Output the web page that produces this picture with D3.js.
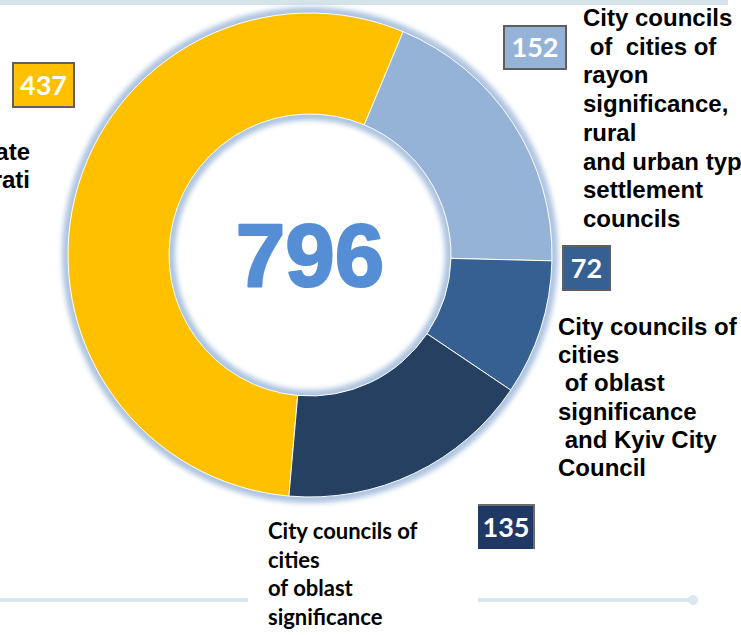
<!DOCTYPE html>
<html>
<head>
<meta charset="utf-8">
<script src="https://cdn.jsdelivr.net/npm/d3@7"></script>
<style>
  html, body { margin: 0; padding: 0; background: #fff; }
  svg { display: block; }
  text { white-space: pre; }
</style>
</head>
<body>
<script>
// Councils by type: counts per category and total
const categories = ["State administrations", "Rayon-level councils", "Oblast city councils and Kyiv", "Oblast city councils"];
const values = [437, 152, 72, 135];
const total = 796;
const sliceColors = ["#ffc000", "#95b3d7", "#366092", "#254061"];
const boxColors = ["#ffc000", "#95b3d7", "#366092", "#1f3864"];

// Label text lines, as laid out beside each slice
const labelLines = [
  ["ate", "rati"],
  ["City councils", " of  cities of", "rayon", "significance,", "rural", "and urban typ", "settlement", "councils"],
  ["City councils of", "cities", " of oblast", "significance", " and Kyiv City", "Council"],
  ["City councils of", "cities", "of oblast", "significance"]
];

const W = 741, H = 635;
const cx = 310, cy = 255, outerR = 242, innerR = 141;
const deg = Math.PI / 180;
const start = 185 * deg;

const svg = d3.select("body").append("svg").attr("width", W).attr("height", H);

const defs = svg.append("defs");
defs.append("filter").attr("id", "glow").attr("x", "-10%").attr("y", "-10%").attr("width", "120%").attr("height", "120%")
  .append("feGaussianBlur").attr("stdDeviation", 2.4);

// decorative rules
svg.append("rect").attr("x", 0).attr("y", 0).attr("width", 728).attr("height", 5).attr("fill", "#d5e3ea");
svg.append("line").attr("x1", 0).attr("x2", 248).attr("y1", 600).attr("y2", 600)
  .attr("stroke", "#dce6ee").attr("stroke-width", 4);
svg.append("line").attr("x1", 478).attr("x2", 693).attr("y1", 600).attr("y2", 600)
  .attr("stroke", "#dce6ee").attr("stroke-width", 4);
svg.append("circle").attr("cx", 693).attr("cy", 600).attr("r", 5).attr("fill", "#dce6ee");

const g = svg.append("g").attr("transform", `translate(${cx},${cy})`);

const pie = d3.pie().sort(null).value(d => d).startAngle(start).endAngle(start + 2 * Math.PI);
const arc = d3.arc().innerRadius(innerR).outerRadius(outerR);

// soft halo along both ring edges
g.append("path")
  .attr("d", d3.arc().innerRadius(innerR - 6).outerRadius(outerR + 6).startAngle(0).endAngle(2 * Math.PI)())
  .attr("fill", "#adc4e0")
  .attr("filter", "url(#glow)");

g.selectAll("path.slice")
  .data(pie(values))
  .join("path")
  .attr("class", "slice")
  .attr("d", arc)
  .attr("fill", (d, i) => sliceColors[i])
  .attr("stroke", "#ffffff")
  .attr("stroke-width", 1);

// total in the centre
g.append("text")
  .attr("x", 0).attr("y", 31)
  .attr("text-anchor", "middle")
  .attr("font-family", "Liberation Sans, Arial, sans-serif")
  .attr("font-weight", 700)
  .attr("font-size", 89)
  .attr("fill", "#558ed5")
  .attr("stroke", "#558ed5")
  .attr("stroke-width", 2.2)
  .attr("stroke-linejoin", "round")
  .text(total);

// value boxes
const boxes = [
  { x: 13, y: 63, w: 61, h: 44 },
  { x: 504, y: 26, w: 62, h: 43 },
  { x: 563, y: 246, w: 47, h: 44 },
  { x: 478, y: 505, w: 56, h: 44 }
];
boxes.forEach((b, i) => {
  const bg = svg.append("g");
  bg.append("rect").attr("x", b.x).attr("y", b.y).attr("width", b.w).attr("height", b.h)
    .attr("fill", boxColors[i])
    .attr("stroke", i === 3 ? "none" : "#5f5f5f")
    .attr("stroke-width", 2);
  if (i === 3) {
    bg.append("path")
      .attr("d", `M${b.x},${b.y} H${b.x + b.w} V${b.y + b.h}`)
      .attr("fill", "none").attr("stroke", "#6b6b6b").attr("stroke-width", 2);
  }
  bg.append("text")
    .attr("x", b.x + b.w / 2).attr("y", b.y + b.h / 2 + 9.5)
    .attr("text-anchor", "middle")
    .attr("font-family", "Lato, 'Open Sans', sans-serif")
    .attr("font-weight", 700)
    .attr("font-size", 27)
    .attr("fill", "#ffffff")
    .text(values[i]);
});

// category labels
const labelPos = [
  { x: 30, y: 160, anchor: "end", dy: 28, font: "Liberation Sans, Arial, sans-serif", size: 24 },
  { x: 583, y: 26, anchor: "start", dy: 28.7, font: "Liberation Sans, Arial, sans-serif", size: 24 },
  { x: 558, y: 335, anchor: "start", dy: 28.2, font: "Liberation Sans, Arial, sans-serif", size: 24 },
  { x: 268, y: 539, anchor: "start", dy: 28.7, font: "Lato, 'Open Sans', sans-serif", size: 22 }
];
labelLines.forEach((lines, i) => {
  const p = labelPos[i];
  const t = svg.append("text")
    .attr("font-family", p.font)
    .attr("font-weight", 700)
    .attr("font-size", p.size)
    .attr("fill", "#000000")
    .attr("text-anchor", p.anchor);
  lines.forEach((line, j) => {
    t.append("tspan").attr("x", p.x).attr("y", p.y + j * p.dy).text(line);
  });
});
</script>
</body>
</html>
